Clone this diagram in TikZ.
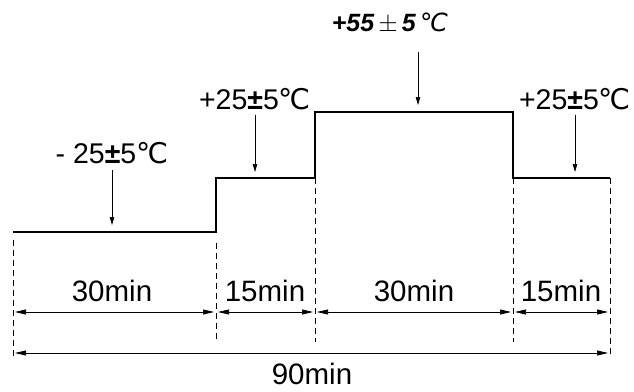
\documentclass[tikz,border=0pt]{standalone}
\usepackage{fontspec}
\setmainfont{Liberation Sans}
\newfontfamily\symfont{DejaVu Sans}
\usetikzlibrary{arrows.meta}
\newcommand{\degc}{{\symfont ℃}}
\begin{document}
\begin{tikzpicture}[x=1pt,y=-1pt,
    profile/.style={line width=2.8pt,line join=miter},
    pointer/.style={line width=0.7pt,-{Triangle[length=8pt,width=4.5pt]}},
    span/.style={line width=0.7pt,shorten <=2pt,shorten >=2pt,
        {Triangle[length=11pt,width=5pt]}-{Triangle[length=11pt,width=5pt]}},
    guide/.style={line width=0.6pt,dash pattern=on 6pt off 4pt},
    temp/.style={font=\fontsize{28.5}{30}\selectfont,inner sep=0pt},
    dur/.style={font=\fontsize{29.5}{31}\selectfont,inner sep=0pt}]
    \useasboundingbox (0,0) rectangle (634,391);
    % corners of the temperature profile
    \coordinate (t0) at (13,232);
    \coordinate (t1) at (216,232);
    \coordinate (t2) at (216,178);
    \coordinate (t3) at (315,178);
    \coordinate (t4) at (315,112);
    \coordinate (t5) at (513,112);
    \coordinate (t6) at (513,178);
    \coordinate (t7) at (610,178);
    \draw [profile] (t0) -- (t1) -- (t2) -- (t3) -- (t4) -- (t5) -- (t6) -- (t7);
    % temperature labels
    \node [temp] (cold) at (112,153) {- 25{\bfseries±}5\degc};
    \node [temp] (warmA) at (255,99) {+25{\bfseries±}5\degc};
    \node [temp] (warmB) at (575,99) {+25{\bfseries±}5\degc};
    \node [temp,font=\fontsize{25}{27}\selectfont] (hot) at (390,23)
        {\bfseries\itshape +55\,$\pm$\,5\,{\mdseries\symfont\itshape ℃}};
    \coordinate (hotmid) at (418,112);
    \draw [pointer] (112,170) -- (112,225);
    \draw [pointer] ([yshift=-5pt]warmA.south) -- ([yshift=6pt]warmA.south |- t2);
    \draw [pointer] ([yshift=-5pt]warmB.south) -- ([yshift=6pt]warmB.south |- t7);
    \draw [pointer] (418,52) -- ([yshift=7pt]hotmid);
    % guides
    \draw [guide] (13,240) -- (13,357);
    \draw [guide] (216,243) -- (216,340);
    \draw [guide] (t3) -- (315,342);
    \draw [guide] (t6) -- (513,342);
    \draw [guide] (t7) -- (610,357);
    % durations
    \draw [span] (13,312) -- (216,312);
    \draw [span] (216,312) -- (315,312);
    \draw [span] (315,312) -- (513,312);
    \draw [span] (513,312) -- (610,312);
    \draw [span] (13,353) -- (610,353);
    \node [dur] (d1) at (112,291) {30min};
    \node [dur] (d2) at (265,291) {15min};
    \node [dur] (d3) at (414,291) {30min};
    \node [dur] (d4) at (561,291) {15min};
    \node [dur] (dt) at (312,374) {90min};
\end{tikzpicture}
\end{document}
